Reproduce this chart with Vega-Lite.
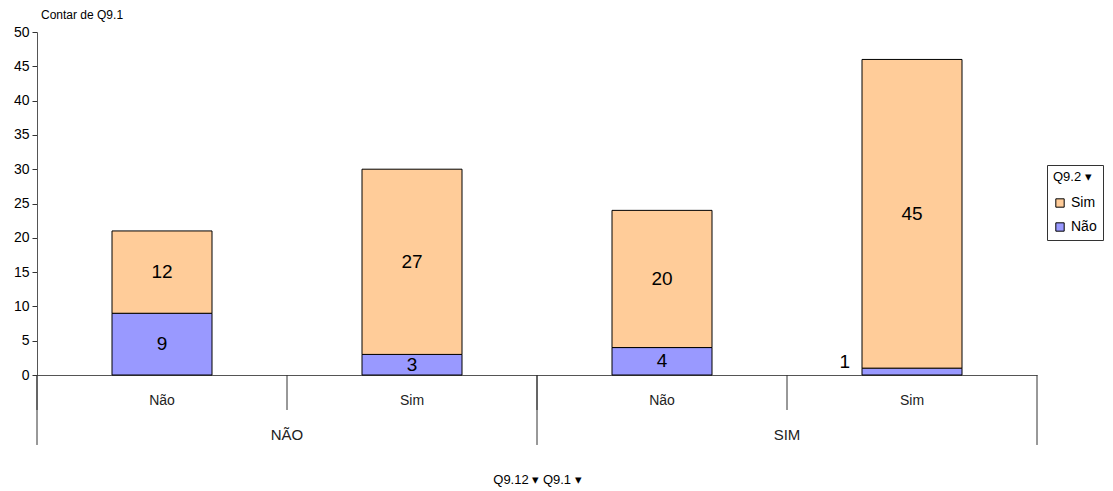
{
  "$schema": "https://vega.github.io/schema/vega-lite/v6.json",
  "width": 1000,
  "height": 343,
  "autosize": {"type": "none"},
  "padding": {"left": 37, "top": 32, "right": 76, "bottom": 116},
  "background": "white",
  "config": {
    "view": {"stroke": null},
    "font": "Liberation Sans",
    "axis": {"labelFont": "Liberation Sans", "titleFont": "Liberation Sans"},
    "axisY": {
      "values": [0, 5, 10, 15, 20, 25, 30, 35, 40, 45, 50],
      "labelOverlap": false,
      "grid": false,
      "labelFontSize": 14,
      "labelColor": "black",
      "labelPadding": 3,
      "tickSize": 5,
      "tickColor": "#333",
      "domainColor": "#555"
    }
  },
  "title": {
    "text": "Contar de Q9.1",
    "anchor": "start",
    "frame": "group",
    "dx": 4,
    "fontSize": 12,
    "fontWeight": "normal",
    "color": "black",
    "offset": 3
  },
  "data": {
    "values": [
      {"group": "NÃO", "key": "NÃO|Não", "resp": "Não", "n": 9},
      {"group": "NÃO", "key": "NÃO|Não", "resp": "Sim", "n": 12},
      {"group": "NÃO", "key": "NÃO|Sim", "resp": "Não", "n": 3},
      {"group": "NÃO", "key": "NÃO|Sim", "resp": "Sim", "n": 27},
      {"group": "SIM", "key": "SIM|Não", "resp": "Não", "n": 4},
      {"group": "SIM", "key": "SIM|Não", "resp": "Sim", "n": 20},
      {"group": "SIM", "key": "SIM|Sim", "resp": "Não", "n": 1},
      {"group": "SIM", "key": "SIM|Sim", "resp": "Sim", "n": 45}
    ]
  },
  "layer": [
    {
      "mark": {"type": "bar", "stroke": "black", "strokeWidth": 1},
      "encoding": {
        "x": {
          "field": "key",
          "type": "nominal",
          "sort": ["NÃO|Não", "NÃO|Sim", "SIM|Não", "SIM|Sim"],
          "scale": {"paddingInner": 0.6, "paddingOuter": 0.3},
          "axis": {
            "labelExpr": "split(datum.label, '|')[1]",
            "labelAngle": 0,
            "labelPadding": 18,
            "labelFontSize": 14,
            "labelColor": "#222",
            "ticks": false,
            "domainColor": "#555",
            "title": "Q9.12 ▾  Q9.1 ▾",
            "titleFontSize": 13,
            "titleFontWeight": "normal",
            "titleColor": "black",
            "titleBaseline": "middle",
            "titleY": 104
          }
        },
        "y": {
          "field": "n",
          "type": "quantitative",
          "stack": "zero",
          "scale": {"domain": [0, 50], "nice": false},
          "axis": {"values": [0, 5, 10, 15, 20, 25, 30, 35, 40, 45, 50], "title": null}
        },
        "color": {
          "field": "resp",
          "type": "nominal",
          "scale": {"domain": ["Sim", "Não"], "range": ["#FFCC99", "#9999FF"]},
          "legend": {
            "orient": "none",
            "legendX": 1010,
            "legendY": 133,
            "title": "Q9.2  ▾",
            "titleFontSize": 13,
            "titleFontWeight": "normal",
            "titleColor": "black",
            "titlePadding": 12,
            "labelFontSize": 14,
            "labelColor": "black",
            "symbolType": "square",
            "symbolSize": 70,
            "symbolStrokeColor": "black",
            "symbolStrokeWidth": 1,
            "strokeColor": "#333",
            "fillColor": "white",
            "padding": 6,
            "rowPadding": 10
          }
        },
        "order": {"field": "resp", "sort": "ascending"}
      }
    },
    {
      "transform": [
        {"stack": "n", "groupby": ["key"], "sort": [{"field": "resp", "order": "ascending"}], "as": ["y0", "y1"]},
        {"filter": "datum.n >= 2"},
        {"fold": ["y0", "y1"], "as": ["edge", "pos"]},
        {"aggregate": [{"op": "mean", "field": "pos", "as": "mid"}], "groupby": ["key", "resp", "n"]}
      ],
      "mark": {"type": "text", "fontSize": 19, "color": "black", "baseline": "middle"},
      "encoding": {
        "x": {
          "field": "key",
          "type": "nominal",
          "scale": {"type": "band", "domain": ["NÃO|Não", "NÃO|Sim", "SIM|Não", "SIM|Sim"], "paddingInner": 0.6, "paddingOuter": 0.3},
          "axis": null
        },
        "y": {"field": "mid", "type": "quantitative", "axis": {"values": [0, 5, 10, 15, 20, 25, 30, 35, 40, 45, 50], "title": null}},
        "text": {"field": "n", "type": "quantitative"}
      }
    },
    {
      "transform": [{"filter": "datum.n < 2"}],
      "mark": {"type": "text", "fontSize": 19, "color": "black", "align": "right", "baseline": "middle", "dx": -12, "dy": -13},
      "encoding": {
        "x": {
          "field": "key",
          "type": "nominal",
          "bandPosition": 0,
          "scale": {"type": "band", "domain": ["NÃO|Não", "NÃO|Sim", "SIM|Não", "SIM|Sim"], "paddingInner": 0.6, "paddingOuter": 0.3},
          "axis": null
        },
        "y": {"datum": 0, "axis": {"values": [0, 5, 10, 15, 20, 25, 30, 35, 40, 45, 50], "title": null}},
        "text": {"field": "n", "type": "quantitative"}
      }
    },
    {
      "transform": [{"aggregate": [{"op": "count", "as": "c"}], "groupby": ["key"]}],
      "mark": {"type": "rule", "color": "#333", "strokeWidth": 1},
      "encoding": {
        "x": {
          "field": "key",
          "type": "nominal",
          "bandPosition": 0,
          "scale": {"type": "band", "domain": ["NÃO|Não", "NÃO|Sim", "SIM|Não", "SIM|Sim"], "padding": 0},
          "axis": null
        },
        "y": {"datum": 0, "axis": {"values": [0, 5, 10, 15, 20, 25, 30, 35, 40, 45, 50], "title": null}},
        "y2": {"datum": -5.1}
      }
    },
    {
      "transform": [
        {"aggregate": [{"op": "count", "as": "c"}], "groupby": ["key"]},
        {"filter": "datum.key == 'NÃO|Não' || datum.key == 'SIM|Não'"}
      ],
      "mark": {"type": "rule", "color": "#333", "strokeWidth": 1},
      "encoding": {
        "x": {
          "field": "key",
          "type": "nominal",
          "bandPosition": 0,
          "scale": {"type": "band", "domain": ["NÃO|Não", "NÃO|Sim", "SIM|Não", "SIM|Sim"], "padding": 0},
          "axis": null
        },
        "y": {"datum": 0, "axis": {"values": [0, 5, 10, 15, 20, 25, 30, 35, 40, 45, 50], "title": null}},
        "y2": {"datum": -10.2}
      }
    },
    {
      "transform": [
        {"aggregate": [{"op": "count", "as": "c"}], "groupby": ["key"]},
        {"filter": "datum.key == 'SIM|Sim'"}
      ],
      "mark": {"type": "rule", "color": "#333", "strokeWidth": 1},
      "encoding": {
        "x": {
          "field": "key",
          "type": "nominal",
          "bandPosition": 1,
          "scale": {"type": "band", "domain": ["NÃO|Não", "NÃO|Sim", "SIM|Não", "SIM|Sim"], "padding": 0},
          "axis": null
        },
        "y": {"datum": 0, "axis": {"values": [0, 5, 10, 15, 20, 25, 30, 35, 40, 45, 50], "title": null}},
        "y2": {"datum": -10.2}
      }
    },
    {
      "transform": [{"aggregate": [{"op": "count", "as": "c"}], "groupby": ["group"]}],
      "mark": {"type": "text", "fontSize": 15, "color": "#222", "baseline": "middle"},
      "encoding": {
        "x": {
          "field": "group",
          "type": "nominal",
          "scale": {"type": "band", "domain": ["NÃO", "SIM"], "padding": 0},
          "axis": null
        },
        "y": {"datum": -8.75, "axis": {"values": [0, 5, 10, 15, 20, 25, 30, 35, 40, 45, 50], "title": null}},
        "text": {"field": "group", "type": "nominal"}
      }
    }
  ],
  "resolve": {"scale": {"x": "independent"}}
}
